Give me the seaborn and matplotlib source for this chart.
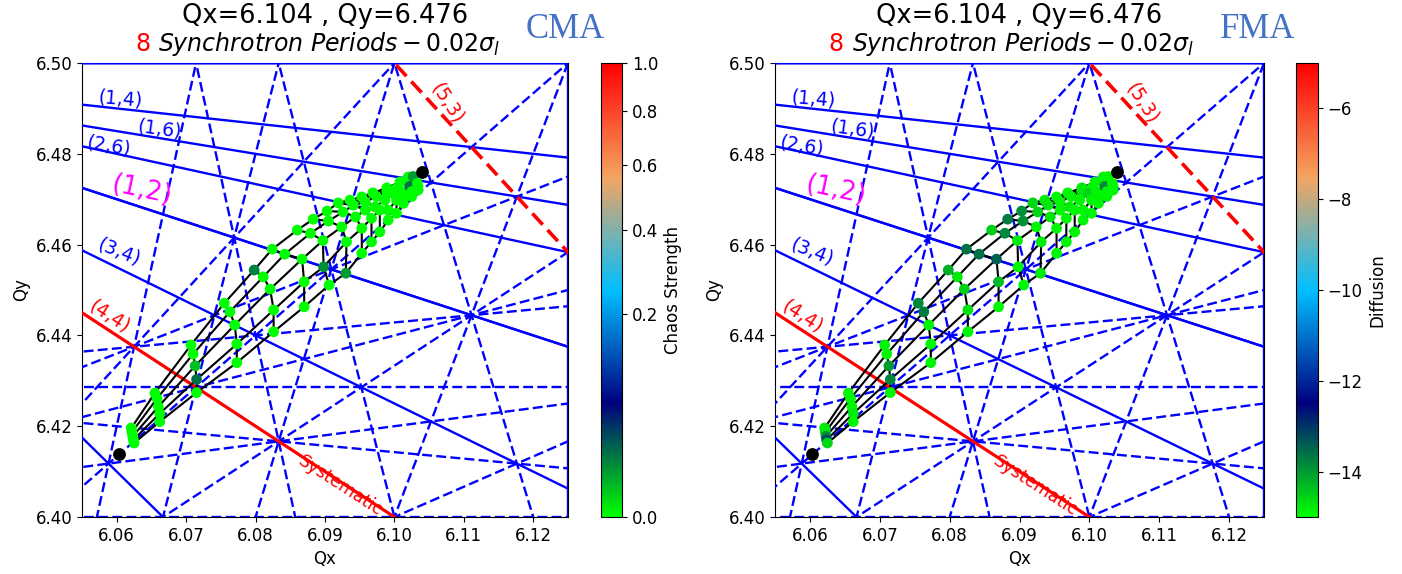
import numpy as np
import pandas as pd
import matplotlib
matplotlib.use("Agg")
import matplotlib.pyplot as plt
import matplotlib.colors as mcolors
import seaborn as sns

# ---------------- data ----------------
QX0, QY0 = 6.104, 6.476
QX_MAX, QY_MAX = 6.0603, 6.4138
XLIM = (6.055, 6.125)
YLIM = (6.40, 6.50)
ORDER = 8

# footprint: 5 rays (constant angle) x 16 amplitude arcs
ray0_qx = [6.0621, 6.0655, 6.0707, 6.0755, 6.0798, 6.0824, 6.0860, 6.0883, 6.0903, 6.0919, 6.0936, 6.0953, 6.0969, 6.0989, 6.1008, 6.1020]
ray0_qy = [6.4196, 6.4273, 6.4379, 6.4471, 6.4544, 6.4590, 6.4632, 6.4656, 6.4674, 6.4692, 6.4698, 6.4705, 6.4714, 6.4725, 6.4738, 6.4749]
ray1_qx = [6.0622, 6.0658, 6.0710, 6.0763, 6.0811, 6.0842, 6.0879, 6.0905, 6.0926, 6.0941, 6.0958, 6.0974, 6.0989, 6.1003, 6.1018, 6.1027]
ray1_qy = [6.4187, 6.4261, 6.4359, 6.4452, 6.4529, 6.4579, 6.4625, 6.4652, 6.4672, 6.4687, 6.4694, 6.4706, 6.4717, 6.4724, 6.4739, 6.4750]
ray2_qx = [6.0623, 6.0660, 6.0713, 6.0770, 6.0821, 6.0867, 6.0897, 6.0924, 6.0944, 6.0958, 6.0972, 6.0986, 6.0998, 6.1010, 6.1022, 6.1033]
ray2_qy = [6.4178, 6.4243, 6.4333, 6.4423, 6.4502, 6.4568, 6.4609, 6.4639, 6.4661, 6.4676, 6.4683, 6.4698, 6.4713, 6.4717, 6.4728, 6.4735]
ray3_qx = [6.0624, 6.0662, 6.0715, 6.0773, 6.0826, 6.0870, 6.0898, 6.0931, 6.0953, 6.0967, 6.0979, 6.0991, 6.1003, 6.1013, 6.1025, 6.1034]
ray3_qy = [6.4170, 6.4228, 6.4303, 6.4381, 6.4456, 6.4518, 6.4551, 6.4606, 6.4636, 6.4658, 6.4676, 6.4676, 6.4698, 6.4706, 6.4717, 6.4728]
ray4_qx = [6.0625, 6.0662, 6.0715, 6.0773, 6.0826, 6.0870, 6.0906, 6.0930, 6.0953, 6.0967, 6.0979, 6.0991, 6.1003, 6.1013, 6.1025, 6.1034]
ray4_qy = [6.4163, 6.4210, 6.4274, 6.4340, 6.4408, 6.4463, 6.4511, 6.4537, 6.4581, 6.4606, 6.4628, 6.4654, 6.4669, 6.4691, 6.4706, 6.4720]

# chaos strength (CMA) per ray
ray0_cma = [0, 0, 0, 0, 0.015, 0, 0, 0, 0, 0, 0, 0, 0, 0, 0, 0]
ray1_cma = [0, 0, 0, 0, 0, 0, 0, 0, 0, 0, 0, 0, 0, 0, 0, 0.01]
ray2_cma = [0, 0, 0.004, 0, 0, 0, 0, 0, 0, 0, 0, 0, 0, 0, 0.02, 0]
ray3_cma = [0, 0, 0.02, 0, 0, 0, 0.012, 0, 0, 0, 0, 0, 0, 0, 0, 0]
ray4_cma = [0, 0, 0, 0, 0, 0, 0, 0.01, 0, 0, 0, 0, 0, 0, 0, 0]
# diffusion (FMA) per ray
ray0_fma = [-14.8, -14.9, -14.9, -13.8, -14.2, -13.6, -14.5, -13.7, -13.9, -14.6, -14.8, -14.9, -14.9, -14.8, -14.9, -14.9]
ray1_fma = [-14.8, -14.9, -14.9, -13.7, -14.8, -13.6, -13.8, -13.9, -14.6, -14.8, -14.9, -14.9, -14.8, -14.9, -14.9, -14.9]
ray2_fma = [-13.9, -14.9, -14.0, -14.9, -14.5, -13.4, -14.8, -14.9, -14.7, -14.9, -14.8, -14.9, -14.6, -14.9, -13.8, -14.9]
ray3_fma = [-13.2, -14.8, -13.8, -14.9, -14.7, -14.3, -14.9, -14.8, -14.9, -14.9, -14.9, -14.9, -14.9, -14.9, -14.9, -14.9]
ray4_fma = [-14.6, -14.9, -14.9, -14.9, -14.9, -14.9, -14.9, -14.8, -14.9, -14.9, -14.9, -14.9, -14.9, -14.9, -14.9, -14.9]

CMA_TICKS = [0.0, 0.2, 0.4, 0.6, 0.8, 1.0]
FMA_RANGE = (-15, -5)

labels_blue = [("(1,4)", 6.0605, 6.4921, -5), ("(1,6)", 6.0661, 6.4855, -8),
               ("(2,6)", 6.0588, 6.4818, -10), ("(3,4)", 6.0603, 6.4583, -22)]
label_12 = ("(1,2)", 6.0637, 6.4718, -12)
label_44 = ("(4,4)", 6.0589, 6.4442, -33)
label_53 = ("(5,3)", 6.1076, 6.4912, -57)
label_sys = ("Systematic", 6.0922, 6.4068, -33)

# ---------------- build frames ----------------
rays_qx = [ray0_qx, ray1_qx, ray2_qx, ray3_qx, ray4_qx]
rays_qy = [ray0_qy, ray1_qy, ray2_qy, ray3_qy, ray4_qy]
rays_cma = [ray0_cma, ray1_cma, ray2_cma, ray3_cma, ray4_cma]
rays_fma = [ray0_fma, ray1_fma, ray2_fma, ray3_fma, ray4_fma]
rows = []
for r in range(5):
    for a in range(len(rays_qx[r])):
        rows.append(dict(ray=r, arc=a, qx=rays_qx[r][a], qy=rays_qy[r][a],
                         cma=rays_cma[r][a], fma=rays_fma[r][a]))
fp = pd.DataFrame(rows)
fp_arc = fp.sort_values(["arc", "ray"])
fp_ray = fp.sort_values(["ray", "arc"])
ends = pd.DataFrame(dict(qx=[QX0, QX_MAX], qy=[QY0, QY_MAX]))

cmap = mcolors.LinearSegmentedColormap.from_list(
    "chaos", ["lime", "navy", "deepskyblue", "sandybrown", "red"])


def resonances():
    out = []
    for m in range(-ORDER, ORDER + 1):
        for n in range(0, ORDER + 1):
            if abs(m) + abs(n) > ORDER or (m == 0 and n == 0):
                continue
            if n == 0 and m < 0:
                continue
            vals = [m * x + n * y for x in XLIM for y in YLIM]
            lo = int(np.ceil(min(vals) - 1e-9))
            hi = int(np.floor(max(vals) + 1e-9))
            for p in range(lo, hi + 1):
                out.append((m, n, p))
    return out


def line_pts(m, n, p):
    if n == 0:
        x = p / m
        return [x, x], [YLIM[0] - 1, YLIM[1] + 1]
    xs = np.array([XLIM[0] - 0.05, XLIM[1] + 0.05])
    return list(xs), list((p - m * xs) / n)


def is_special(m, n, p):
    if n > 0 and m == n and abs(p / m - 12.5) < 1e-9:
        return True
    if n > 0 and m * 3 == 5 * n and abs(p * 3 - 50 * n) < 1e-9:
        return True
    return False


def draw_panel(ax, cax, col, norm, cbar_label, ticks):
    for (m, n, p) in resonances():
        if is_special(m, n, p):
            continue
        xs, ys = line_pts(m, n, p)
        ls = "-" if n % 2 == 0 else (0, (4.2, 1.8))
        ax.plot(xs, ys, color="blue", lw=1.7, ls=ls, zorder=3)
    xs, ys = line_pts(4, 4, 50)
    ax.plot(xs, ys, color="red", lw=2.3, ls="-", zorder=3.2)
    xs, ys = line_pts(5, 3, 50)
    ax.plot(xs, ys, color="red", lw=2.6, ls=(0, (4.2, 2.0)), zorder=3.2)

    sns.lineplot(data=fp_ray, x="qx", y="qy", units="ray", estimator=None,
                 sort=False, color="black", lw=1.5, ax=ax, legend=False, zorder=4)
    sns.lineplot(data=fp_arc, x="qx", y="qy", units="arc", estimator=None,
                 sort=False, color="black", lw=1.5, ax=ax, legend=False, zorder=4)
    sns.scatterplot(data=fp, x="qx", y="qy", hue=col, palette=cmap, hue_norm=norm,
                    s=60, linewidth=0, ax=ax, legend=False, zorder=5)
    sns.scatterplot(data=ends, x="qx", y="qy", color="black", s=85, linewidth=0,
                    ax=ax, legend=False, zorder=6)

    for t, x, y, rot in labels_blue:
        ax.text(x, y, t, color="blue", fontsize=13.5, rotation=rot, ha="center",
                va="center", zorder=7)
    t, x, y, rot = label_12
    ax.text(x, y, t, color="magenta", fontsize=18.5, rotation=rot, ha="center", va="center", zorder=7)
    for t, x, y, rot in [label_44, label_53, label_sys]:
        ax.text(x, y, t, color="red", fontsize=13.5 if t != "Systematic" else 12.5,
                rotation=rot, ha="center", va="center", zorder=7)

    ax.set_xlim(*XLIM)
    ax.set_ylim(*YLIM)
    ax.set_xticks(np.arange(6.06, 6.1201, 0.01))
    ax.set_yticks(np.arange(6.40, 6.5001, 0.02))
    ax.xaxis.set_major_formatter(matplotlib.ticker.FormatStrFormatter("%.2f"))
    ax.yaxis.set_major_formatter(matplotlib.ticker.FormatStrFormatter("%.2f"))
    ax.tick_params(labelsize=12)
    ax.set_xlabel("Qx", fontsize=12)
    ax.set_ylabel("Qy", fontsize=12)

    ax.text(0.5, 1.103, "Qx=6.104 , Qy=6.476", transform=ax.transAxes,
            ha="center", va="center", fontsize=18.5)
    ax.text(0.125, 1.042, "8", transform=ax.transAxes, color="red",
            ha="center", va="center", fontsize=17)
    ax.text(0.157, 1.042, r"$Synchrotron\ Periods - 0.02\sigma_l$",
            transform=ax.transAxes, ha="left", va="center", fontsize=17)

    sm = matplotlib.cm.ScalarMappable(norm=norm, cmap=cmap)
    cb = plt.colorbar(sm, cax=cax)
    if ticks is not None:
        cb.set_ticks(ticks)
        cb.set_ticklabels([f"{v:.1f}" for v in ticks])
    cb.ax.tick_params(labelsize=12)
    cb.set_label(cbar_label, fontsize=12)


fig = plt.figure(figsize=(14.02, 5.74), dpi=100)
axL = fig.add_axes([0.0585, 0.0993, 0.3466, 0.7909])
caxL = fig.add_axes([0.4287, 0.0993, 0.015, 0.7909])
axR = fig.add_axes([0.5528, 0.0993, 0.3488, 0.7909])
caxR = fig.add_axes([0.9244, 0.0993, 0.0157, 0.7909])

draw_panel(axL, caxL, "cma", mcolors.PowerNorm(gamma=0.5, vmin=0, vmax=1),
           "Chaos Strength", CMA_TICKS)
draw_panel(axR, caxR, "fma", mcolors.Normalize(vmin=FMA_RANGE[0], vmax=FMA_RANGE[1]),
           "Diffusion", None)

fig.text(0.403, 0.948, "CMA", color="#4472C4", fontsize=25,
         family="Liberation Serif", ha="center", va="center")
fig.text(0.897, 0.948, "FMA", color="#4472C4", fontsize=25,
         family="Liberation Serif", ha="center", va="center")

fig.savefig("out.png", dpi=100)
